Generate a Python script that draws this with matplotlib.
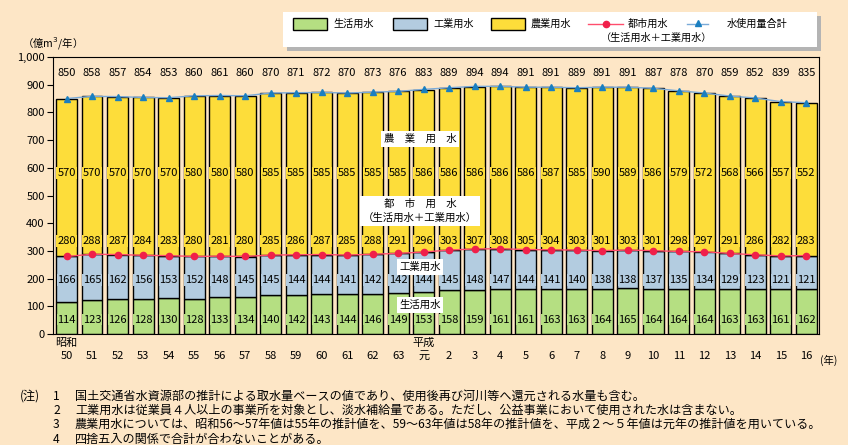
import matplotlib
matplotlib.use("Agg")
import matplotlib.pyplot as plt
import numpy as np
from matplotlib.patches import Rectangle
from matplotlib.lines import Line2D

plt.rcParams['font.family'] = ['Noto Sans CJK JP', 'DejaVu Sans']

# data (億m3/年), 昭和50 .. 平成16
years = ["昭和\n50", "\n51", "\n52", "\n53", "\n54", "\n55", "\n56", "\n57", "\n58", "\n59",
         "\n60", "\n61", "\n62", "\n63", "平成\n元", "\n2", "\n3", "\n4", "\n5", "\n6",
         "\n7", "\n8", "\n9", "\n10", "\n11", "\n12", "\n13", "\n14", "\n15", "\n16"]
domestic = [114, 123, 126, 128, 130, 128, 133, 134, 140, 142, 143, 144, 146, 149, 153,
            158, 159, 161, 161, 163, 163, 164, 165, 164, 164, 164, 163, 163, 161, 162]
industrial = [166, 165, 162, 156, 153, 152, 148, 145, 145, 144, 144, 141, 142, 142, 144,
              145, 148, 147, 144, 141, 140, 138, 138, 137, 135, 134, 129, 123, 121, 121]
agri = [570, 570, 570, 570, 570, 580, 580, 580, 585, 585, 585, 585, 585, 585, 586,
        586, 586, 586, 586, 587, 585, 590, 589, 586, 579, 572, 568, 566, 557, 552]
urban = [280, 288, 287, 284, 283, 280, 281, 280, 285, 286, 287, 285, 288, 291, 296,
         303, 307, 308, 305, 304, 303, 301, 303, 301, 298, 297, 291, 286, 282, 283]
total = [850, 858, 857, 854, 853, 860, 861, 860, 870, 871, 872, 870, 873, 876, 883,
         889, 894, 894, 891, 891, 889, 891, 891, 887, 878, 870, 859, 852, 839, 835]

bg = '#fde6c6'
c_dom = '#b5df82'
c_ind = '#b3cce0'
c_agr = '#fddd3a'
c_red = '#ff4d6d'
c_redm = '#f0204a'
c_blue = '#7aaad8'
c_bluem = '#1a7fc0'

W, H = 848, 445
fig = plt.figure(figsize=(W / 100, H / 100), dpi=100, facecolor=bg)
ax = fig.add_axes([0.0625, 0.2494, 0.9033, 0.6225], facecolor=bg)


def fx(px):
    return px / W


def fy(py):
    return 1 - py / H


x = np.arange(len(years))
w = 0.82
ax.bar(x, domestic, w, color=c_dom, edgecolor='black', linewidth=1)
ax.bar(x, industrial, w, bottom=domestic, color=c_ind, edgecolor='black', linewidth=1)
ax.bar(x, agri, w, bottom=urban, color=c_agr, edgecolor='black', linewidth=1)

ax.plot(x, urban, color=c_red, lw=1, marker='o', ms=4.5, mfc=c_redm, mec=c_redm, zorder=5)
ax.plot(x, total, color=c_blue, lw=1, marker='^', ms=5, mfc=c_bluem, mec=c_bluem, zorder=5)

fs = 8
for i in x:
    ax.text(i, 942, str(total[i]), ha='center', va='center', fontsize=fs)
    ax.text(i, 580, str(agri[i]), ha='center', va='center', fontsize=fs,
            bbox=dict(boxstyle='square,pad=0.08', fc=c_agr, ec='none'))
    ax.text(i, 337, str(urban[i]), ha='center', va='center', fontsize=fs,
            bbox=dict(boxstyle='square,pad=0.08', fc=c_agr, ec='none'))
    ax.text(i, 195, str(industrial[i]), ha='center', va='center', fontsize=fs,
            bbox=dict(boxstyle='square,pad=0.05', fc=c_ind, ec='none'))
    ax.text(i, 51, str(domestic[i]), ha='center', va='center', fontsize=fs,
            bbox=dict(boxstyle='square,pad=0.05', fc=c_dom, ec='none'))

# series labels inside the chart
box = dict(boxstyle='square,pad=0.25', fc='white', ec='none')
ax.text(13.86, 704, "農　業　用　水", ha='center', va='center', fontsize=7.5, bbox=box, zorder=6)
ax.text(13.86, 445, "都　市　用　水\n（生活用水＋工業用水）", ha='center', va='center',
        fontsize=7.5, bbox=box, zorder=6, linespacing=1.5)
ax.text(13.86, 242, "工業用水", ha='center', va='center', fontsize=7.5, bbox=box, zorder=6)
ax.text(13.86, 105, "生活用水", ha='center', va='center', fontsize=7.5, bbox=box, zorder=6)

ax.set_xlim(-0.53, 29.5)
ax.set_ylim(0, 1000)
ax.set_yticks(range(0, 1001, 100))
ax.set_yticklabels([f"{v:,}" for v in range(0, 1001, 100)], fontsize=8)
ax.set_xticks(x)
ax.set_xticklabels(years, fontsize=8, linespacing=1.3)
ax.tick_params(axis='x', length=0, pad=3)
ax.tick_params(axis='y', length=4, pad=2)

fig.text(fx(22), fy(43), "（億m$^3$/年）", fontsize=7.5, va='center')
fig.text(fx(820), fy(360), "(年)", fontsize=7.5, ha='left', va='center')

# legend box drawn by hand
fig.patches.append(Rectangle((fx(287), fy(51)), fx(534), 35 / H, transform=fig.transFigure,
                             fc='#b4b4b4', ec='none', zorder=1))
fig.patches.append(Rectangle((fx(283), fy(47)), fx(534), 35 / H, transform=fig.transFigure,
                             fc='white', ec='none', zorder=2))
row = 24
lf = 7.3
for x0, col, lab in [(293, c_dom, "生活用水"), (393, c_ind, "工業用水"), (491, c_agr, "農業用水")]:
    fig.patches.append(Rectangle((fx(x0), fy(row + 6)), fx(34), 12 / H, transform=fig.transFigure,
                                 fc=col, ec='black', lw=1, zorder=3))
    fig.text(fx(x0 + 40), fy(row), lab, fontsize=lf, va='center', zorder=4)
fig.lines.append(Line2D([fx(588), fx(623)], [fy(row), fy(row)], transform=fig.transFigure,
                        color=c_red, lw=1, zorder=3))
fig.lines.append(Line2D([fx(606)], [fy(row)], transform=fig.transFigure, marker='o', ms=4.5,
                        mfc=c_redm, mec=c_redm, zorder=4))
fig.text(fx(628), fy(row), "都市用水", fontsize=lf, va='center', zorder=4)
fig.text(fx(657), fy(38), "（生活用水＋工業用水）", fontsize=lf, ha='center', va='center', zorder=4)
fig.lines.append(Line2D([fx(687), fx(708)], [fy(row), fy(row)], transform=fig.transFigure,
                        color=c_blue, lw=1, zorder=3))
fig.lines.append(Line2D([fx(698)], [fy(row - 1)], transform=fig.transFigure, marker='^', ms=5,
                        mfc=c_bluem, mec=c_bluem, zorder=4))
fig.text(fx(727), fy(row), "水使用量合計", fontsize=lf, va='center', zorder=4)

# notes
notes = ["国土交通省水資源部の推計による取水量ベースの値であり、使用後再び河川等へ還元される水量も含む。",
         "工業用水は従業員４人以上の事業所を対象とし、淡水補給量である。ただし、公益事業において使用された水は含まない。",
         "農業用水については、昭和56～57年値は55年の推計値を、59～63年値は58年の推計値を、平成２～５年値は元年の推計値を用いている。",
         "四捨五入の関係で合計が合わないことがある。"]
nf = 8.7
fig.text(fx(20), fy(396), "(注)", fontsize=nf, va='center')
for k, t in enumerate(notes):
    yy = fy(396 + 14.4 * k)
    fig.text(fx(53), yy, str(k + 1), fontsize=nf, va='center')
    fig.text(fx(75), yy, t, fontsize=nf, va='center')

fig.savefig("out.png", dpi=100, facecolor=bg)
